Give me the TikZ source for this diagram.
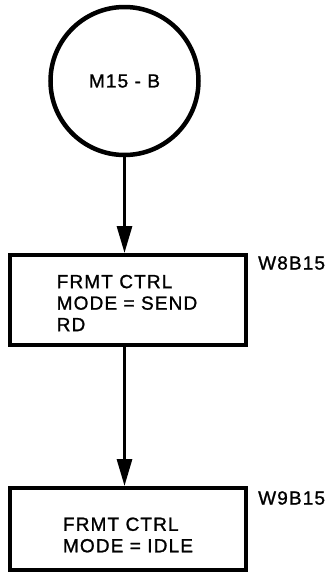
\documentclass[tikz,border=0pt]{standalone}
\usepackage{fontspec}
\setmainfont{Liberation Sans}[LetterSpace=6,FakeBold=1.2]
\usetikzlibrary{arrows.meta}
\tikzset{
  every node/.style={font=\fontsize{19}{21.5}\selectfont},
  startcircle/.style={circle, draw, line width=4.5pt, minimum size=148pt, inner sep=0pt},
  procbox/.style={rectangle, draw, line width=4pt, minimum width=236pt, inner sep=0pt},
  boxtext/.style={align=left, inner sep=0pt},
  tag/.style={anchor=west, inner sep=0pt},
  flow/.style={line width=3pt, -{Triangle[length=27pt,width=15pt]}}
}
\begin{document}
\begin{tikzpicture}[x=1pt,y=-1pt]
\useasboundingbox (0,0) rectangle (331,582);
\node[startcircle] (c) at (124.5,81) {M15 - B};
\node[procbox, minimum height=90pt] (b1) at (128,300) {};
\node[boxtext] (t1) at (127,303) {FRMT CTRL\\MODE = SEND\\RD};
\node[tag] (l1) at (258,263) {W8B15};
\node[procbox, minimum height=82pt] (b2) at (128,529) {};
\node[boxtext] (t2) at (128,535) {FRMT CTRL\\MODE = IDLE};
\node[tag] (l2) at (258,498) {W9B15};
\draw[flow] (c.south) -- (c.south |- b1.north);
\draw[flow] (c.south |- b1.south) -- (c.south |- b2.north);
\end{tikzpicture}
\end{document}
